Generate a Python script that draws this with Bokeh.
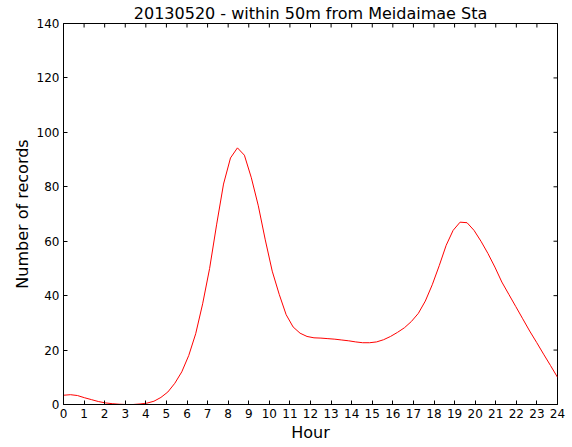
import numpy as np
from bokeh.plotting import figure
from bokeh.models import Range1d, FixedTicker
from bokeh.embed import file_html
from bokeh.resources import INLINE

title_text = "20130520 - within 50m from Meidaimae Sta"
x_label = "Hour"
y_label = "Number of records"
x_ticks = list(range(0, 25))
y_ticks = [0, 20, 40, 60, 80, 100, 120, 140]

records = [
    3.4, 3.6, 3.3, 2.5, 1.8, 1.1, 0.6, 0.3, 0.1, 0.0,
    0.0, 0.2, 0.5, 1.2, 2.6, 4.6, 7.8, 12.0, 18.0, 26.0,
    37.0, 50.0, 66.0, 81.0, 90.6, 94.3, 91.6, 83.3, 73.0, 60.5,
    49.0, 40.5, 33.0, 28.5, 26.2, 25.0, 24.5, 24.4, 24.2, 24.0,
    23.7, 23.4, 23.0, 22.7, 22.7, 23.0, 23.8, 25.0, 26.5, 28.2,
    30.5, 33.5, 38.0, 44.0, 51.0, 58.5, 64.0, 67.0, 66.8, 64.0,
    60.0, 55.5, 50.5, 45.0, 40.5, 36.0, 31.5, 27.0, 22.8, 18.5,
    14.3, 10.0,
]
hours = np.linspace(0, 24, len(records))

FONT = "DejaVu Sans"
X_MIN, X_MAX = 0, 24
Y_MIN, Y_MAX = 0, 140

p = figure(width=572, height=447, output_backend="svg", toolbar_location=None,
           x_range=Range1d(X_MIN, X_MAX), y_range=Range1d(Y_MIN, Y_MAX),
           min_border_left=63, min_border_right=15, min_border_top=22, min_border_bottom=43)
p.background_fill_color = "white"
p.border_fill_color = "white"
p.outline_line_color = "black"
p.outline_line_width = 1
p.grid.visible = False

p.title.text = title_text
p.title.align = "center"
p.title.text_font = FONT
p.title.text_font_size = "16px"
p.title.text_font_style = "normal"
p.title.text_color = "black"
p.title.standoff = 2
p.title.offset = 0

p.line(hours, records, line_color="#ff0000", line_width=1)

# inward ticks on the top and right frame edges (clipped to the frame, so only the inner half shows)
p.scatter(x=x_ticks, y=[Y_MAX] * len(x_ticks), marker="dash", size=8, angle=np.pi / 2,
          line_color="black", line_width=1)
p.scatter(x=[X_MAX] * len(y_ticks), y=y_ticks, marker="dash", size=8,
          line_color="black", line_width=1)

for ax, ticks, label in ((p.xaxis[0], x_ticks, x_label), (p.yaxis[0], y_ticks, y_label)):
    ax.ticker = FixedTicker(ticks=ticks)
    ax.major_tick_in = 4
    ax.major_tick_out = 0
    ax.minor_tick_in = 0
    ax.minor_tick_out = 0
    ax.major_tick_line_color = "black"
    ax.axis_line_color = "black"
    ax.major_label_text_font = FONT
    ax.major_label_text_color = "black"
    ax.major_label_text_font_size = "12px"
    ax.major_label_standoff = 4
    ax.axis_label = label
    ax.axis_label_text_font = FONT
    ax.axis_label_text_font_size = "16px"
    ax.axis_label_text_font_style = "normal"
    ax.axis_label_text_color = "black"
    ax.axis_label_standoff = 2

open("out.html", "w").write(file_html(p, INLINE))
